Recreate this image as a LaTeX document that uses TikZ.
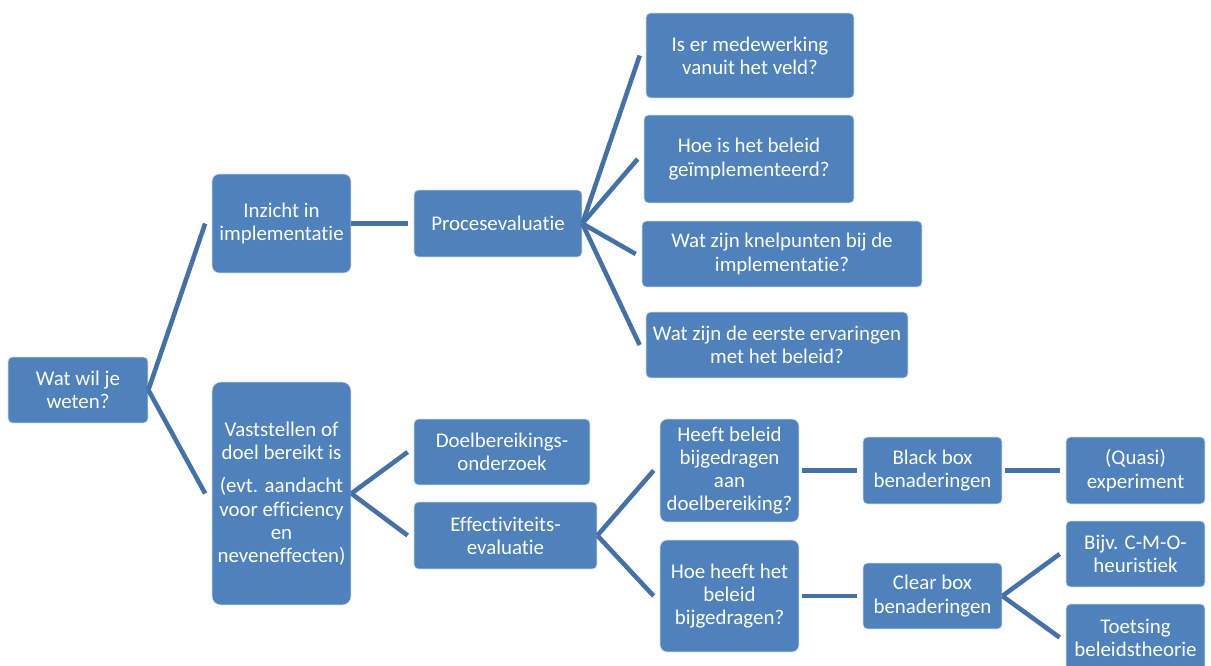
\documentclass[tikz,border=0pt]{standalone}
\usepackage{fontspec}
\setmainfont{Carlito}[Ligatures=NoCommon]
\definecolor{boxblue}{HTML}{4F81BD}
\definecolor{linkblue}{HTML}{4472A8}
\begin{document}
\begin{tikzpicture}[x=0.02cm, y=-0.02cm,
  vak/.style={rectangle, rounded corners=2.5pt, fill=boxblue, draw=white!75!boxblue, line width=0.4pt, text=white, align=center, inner sep=0pt, font=\fontsize{11.9}{13.2}\selectfont},
  tak/.style={linkblue, line width=2.6pt}]
\useasboundingbox (0,0) rectangle (1211,666);
\node[vak, minimum width=2.8cm, minimum height=1.32cm] (vr0) at (78,390) {Wat wil je\\weten?};
\node[vak, rounded corners=4pt, minimum width=2.78cm, minimum height=1.98cm] (vr1) at (281.5,223.5) {Inzicht in\\implementatie};
\node[vak, rounded corners=5pt, minimum width=2.78cm, minimum height=4.46cm] (vr2) at (281.5,493.5) {Vaststellen of\\doel bereikt is\\[6pt](evt. aandacht\\voor efficiency\\en\\neveneffecten)};
\draw[tak](vr0.east) -- ([xshift=-.13cm]vr1.west);
\draw[tak](vr0.east) -- ([xshift=-.13cm]vr2.west);
\node[vak, minimum width=3.36cm, minimum height=1.34cm] (vr3) at (498,223.5) {Procesevaluatie};
\draw[tak](vr1.east) -- ([xshift=-.12cm]vr3.west);
\node[vak, minimum width=4.16cm, minimum height=1.7cm] (vr4) at (750,55.5) {Is er medewerking\\vanuit het veld?};
\node[vak, minimum width=4.2cm, minimum height=1.76cm] (vr5) at (749,159) {Hoe is het beleid\\geïmplementeerd?};
\node[vak, minimum width=5.6cm, minimum height=1.32cm] (vr6) at (782,254) {Wat zijn knelpunten bij de\\implementatie?};
\node[vak, minimum width=5.24cm, minimum height=1.32cm] (vr7) at (777,345) {Wat zijn de eerste ervaringen\\met het beleid?};
\draw[tak](vr3.east) -- ([xshift=-.12cm]vr4.west);
\draw[tak](vr3.east) -- ([xshift=-.12cm]vr5.west);
\draw[tak](vr3.east) -- ([xshift=-.12cm]vr6.west);
\draw[tak](vr3.east) -- ([xshift=-.12cm]vr7.west);
\node[vak, minimum width=3.52cm, minimum height=1.32cm] (vr8) at (502,452) {Doelbereikings-\\onderzoek};
\node[vak, minimum width=3.66cm, minimum height=1.34cm] (vr9) at (505.5,535.5) {Effectiviteits-\\evaluatie};
\draw[tak](vr2.east) -- ([xshift=-.12cm]vr8.west);
\draw[tak](vr2.east) -- ([xshift=-.12cm]vr9.west);
\node[vak, rounded corners=4pt, minimum width=2.78cm, minimum height=2.06cm] (vr10) at (729.5,470.5) {Heeft beleid\\bijgedragen\\aan\\doelbereiking?};
\node[vak, rounded corners=4pt, minimum width=2.78cm, minimum height=2.24cm] (vr11) at (729.5,596) {Hoe heeft het\\beleid\\bijgedragen?};
\draw[tak](vr9.east) -- ([xshift=-.12cm]vr10.west);
\draw[tak](vr9.east) -- ([xshift=-.12cm]vr11.west);
\node[vak, minimum width=2.78cm, minimum height=1.34cm] (vr12) at (932.5,470.5) {Black box\\benaderingen};
\node[vak, minimum width=2.78cm, minimum height=1.34cm] (vr13) at (1135.5,470.5) {(Quasi)\\experiment};
\draw[tak]([xshift=.06cm]vr10.east) -- ([xshift=-.12cm]vr12.west);
\draw[tak]([xshift=.06cm]vr12.east) -- ([xshift=-.12cm]vr13.west);
\node[vak, minimum width=2.78cm, minimum height=1.32cm] (vr14) at (932.5,596) {Clear box\\benaderingen};
\node[vak, minimum width=2.78cm, minimum height=1.32cm] (vr15) at (1135.5,554) {Bijv. C-M-O-\\heuristiek};
\node[vak, minimum width=2.78cm, minimum height=1.34cm] (vr16) at (1135.5,637.5) {Toetsing\\beleidstheorie};
\draw[tak]([xshift=.06cm]vr11.east) -- ([xshift=-.12cm]vr14.west);
\draw[tak](vr14.east) -- ([xshift=-.12cm]vr15.west);
\draw[tak](vr14.east) -- ([xshift=-.12cm]vr16.west);

\end{tikzpicture}
\end{document}
